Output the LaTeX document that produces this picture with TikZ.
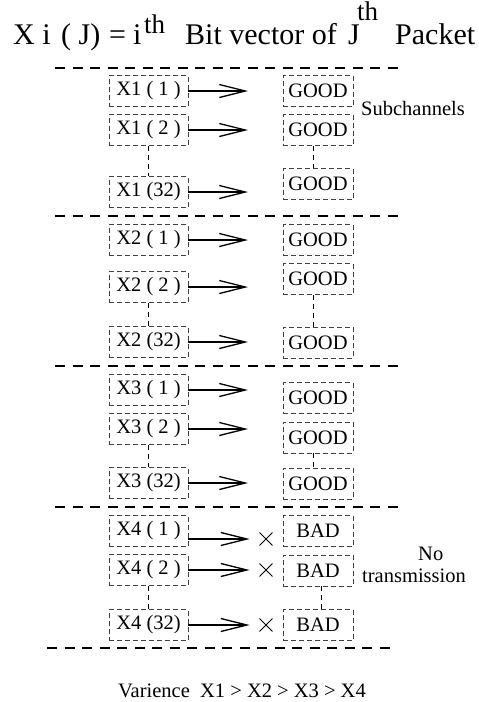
\documentclass[tikz,border=0pt]{standalone}
\usepackage{fontspec}
\setmainfont{Liberation Serif}
\usetikzlibrary{arrows.meta,shapes.misc}
\begin{document}
\begin{tikzpicture}[x=1pt,y=-1pt,
  lbox/.style={draw=black!75, dash pattern=on 5pt off 3pt, line width=0.8pt, minimum width=79pt, minimum height=31pt, inner sep=0pt, font=\fontsize{20.5}{24}\selectfont},
  rbox/.style={lbox, minimum width=70pt},
  sepline/.style={line width=1.1pt, dash pattern=on 10pt off 7.5pt},
  link/.style={line width=0.9pt, dash pattern=on 5pt off 4pt},
  arr/.style={line width=1.3pt, -{Straight Barb[length=26pt,width=13pt,line width=1.3pt]}},
  xmark/.style={cross out, draw, line width=0.9pt, minimum size=12pt, inner sep=0pt},
  txt/.style={anchor=base west, inner sep=0pt, font=\fontsize{20.5}{24}\selectfont},
  ttl/.style={anchor=base west, inner sep=0pt, font=\fontsize{30}{36}\selectfont},
  suptxt/.style={anchor=base west, inner sep=0pt, font=\fontsize{27}{32}\selectfont},
]
\useasboundingbox (0,0) rectangle (479,702);

% title
\node[ttl] (t1) at (13,44) {X\hspace{0.25em}i};
\node[ttl] (t2) at (61,44) {( J)};
\node[ttl] (t3) at (109,44) {=};
\node[ttl] (t4) at (133,44) {i};
\node[suptxt] (t5) at (144,33) {th};
\node[ttl] (t6) at (185,44) {Bit vector of};
\node[ttl] (t7) at (348,44) {J};
\node[suptxt] (t8) at (357,20) {th};
\node[ttl] (t9) at (395,44) {Packet};

% separators
\draw[sepline] (55,68) -- (400,68);
\draw[sepline] (55,216) -- (400,216);
\draw[sepline] (55,366) -- (400,366);
\draw[sepline] (55,507) -- (400,507);
\draw[sepline] (47,648) -- (392,648);

% left boxes
\node[lbox] (x11) at (148.5,91) {X1 ( 1 )};
\node[lbox] (x12) at (148.5,130) {X1 ( 2 )};
\node[lbox] (x13) at (148.5,192) {X1 (32)};
\node[lbox] (x21) at (148.5,240) {X2 ( 1 )};
\node[lbox] (x22) at (148.5,287) {X2 ( 2 )};
\node[lbox] (x23) at (148.5,342) {X2 (32)};
\node[lbox] (x31) at (148.5,390) {X3 ( 1 )};
\node[lbox] (x32) at (148.5,429) {X3 ( 2 )};
\node[lbox] (x33) at (148.5,483) {X3 (32)};
\node[lbox] (x41) at (148.5,531) {X4 ( 1 )};
\node[lbox] (x42) at (148.5,570) {X4 ( 2 )};
\node[lbox] (x43) at (148.5,625) {X4 (32)};

% right boxes
\node[rbox] (g11) at (318,91) {GOOD};
\node[rbox] (g12) at (318,130) {GOOD};
\node[rbox] (g13) at (318,184) {GOOD};
\node[rbox] (g21) at (318,240) {GOOD};
\node[rbox] (g22) at (318,279) {GOOD};
\node[rbox] (g23) at (318,342.5) {GOOD};
\node[rbox] (g31) at (318,398) {GOOD};
\node[rbox] (g32) at (318,437.5) {GOOD};
\node[rbox] (g33) at (318,483.5) {GOOD};
\node[rbox] (b41) at (318,531) {BAD};
\node[rbox] (b42) at (318,570.5) {BAD};
\node[rbox] (b43) at (318,625) {BAD};

% arrow ends
\coordinate (e11) at (248,91);
\coordinate (e12) at (248,130);
\coordinate (e13) at (248,192);
\coordinate (e21) at (248,240);
\coordinate (e22) at (248,287);
\coordinate (e23) at (248,342);
\coordinate (e31) at (248,390);
\coordinate (e32) at (248,429);
\coordinate (e33) at (248,483);

\foreach \s/\r in {1/1,1/2,1/3,2/1,2/2,2/3,3/1,3/2,3/3}
  \draw[arr] (x\s\r.east) -- (e\s\r);

% crosses
\node[xmark] (c41) at (266,539) {};
\node[xmark] (c42) at (266,570) {};
\node[xmark] (c43) at (266,625) {};
\draw[arr] ([yshift=-8pt]x41.east) -- ([xshift=-10pt]c41.west);
\draw[arr] (x42.east) -- ([xshift=-10pt]c42.west);
\draw[arr] (x43.east) -- ([xshift=-10pt]c43.west);

% vertical links
\draw[link] (x12.south) -- (x13.north);
\draw[link] (x22.south) -- (x23.north);
\draw[link] (x32.south) -- (x33.north);
\draw[link] (x42.south) -- (x43.north);
\draw[link] ([xshift=-5pt]g12.south) -- ([xshift=-5pt]g13.north);
\draw[link] ([xshift=-5pt]g22.south) -- ([xshift=-5pt]g23.north);
\draw[link] ([xshift=-5pt]g32.south) -- ([xshift=-5pt]g33.north);
\draw[link] ([xshift=3pt]b42.south) -- ([xshift=3pt]b43.north);

% side texts
\node[txt] (sub) at (361,115) {Subchannels};
\node[txt] (no) at (418,560) {No};
\node[txt] (tr) at (362,582) {transmission};
\node[txt] (var) at (118,697) {Varience\ \ X1 > X2 > X3 > X4};
\end{tikzpicture}
\end{document}
